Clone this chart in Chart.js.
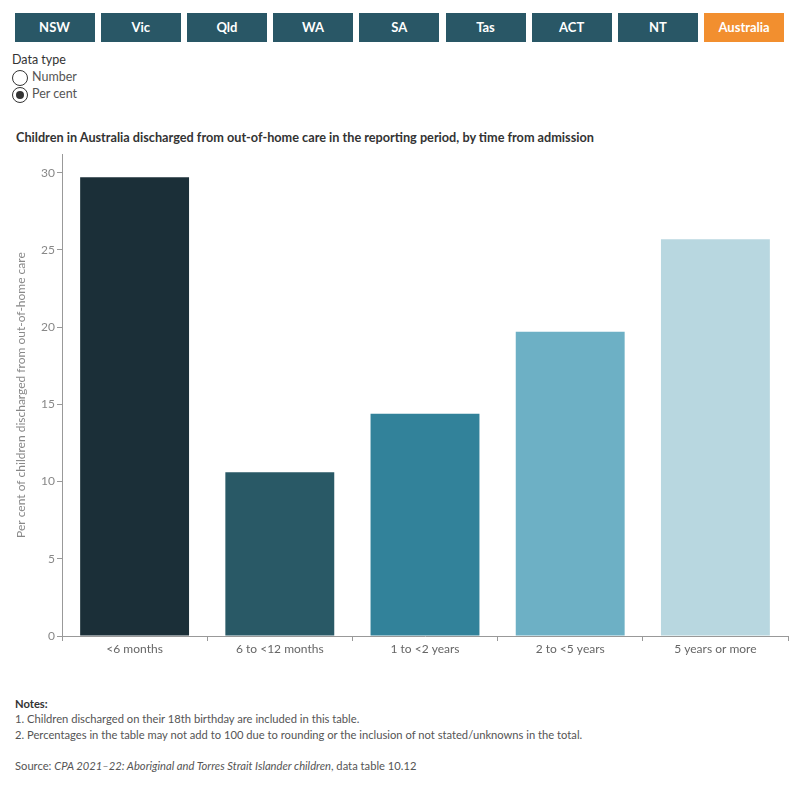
<!DOCTYPE html>
<html>
<head>
<meta charset="utf-8">
<script src="https://cdn.jsdelivr.net/npm/chart.js@4"></script>
<style>
  body { margin: 0; width: 800px; height: 800px; font-family: Lato, "Noto Sans", sans-serif; color: #333; position: relative; background: #fff; }
  .btn { position: absolute; top: 13px; width: 80px; height: 29px; background: #295766; color: #fff; font-weight: bold; font-size: 13px; line-height: 29px; text-align: center; }
  .btn.on { background: #f28f2f; }
  .lbl { position: absolute; font-size: 12.5px; color: #333; }
  .radio { position: absolute; left: 12px; width: 14px; height: 14px; border: 1px solid #333; border-radius: 50%; }
  .radio.on::after { content: ""; position: absolute; left: 3px; top: 3px; width: 8px; height: 8px; border-radius: 50%; background: #333; }
  #title { position: absolute; left: 16px; top: 129px; font-size: 12.7px; font-weight: bold; color: #333; }
  #wrap { position: absolute; left: 0; top: 145px; width: 800px; height: 520px; }
  .note { position: absolute; left: 15px; font-size: 11.2px; color: #555; }
</style>
</head>
<body>
<div id="buttons"></div>
<div class="lbl" style="left:12px;top:52px;">Data type</div>
<div class="radio" style="top:70px;"></div>
<div class="lbl" style="left:32px;top:69px;color:#555;">Number</div>
<div class="radio on" style="top:87px;"></div>
<div class="lbl" style="left:32px;top:86px;color:#555;">Per cent</div>
<div id="title">Children in Australia discharged from out-of-home care in the reporting period, by time from admission</div>
<div id="wrap"><canvas id="c" width="800" height="520"></canvas></div>
<div class="note" style="top:697px;font-weight:bold;color:#333;">Notes:</div>
<div class="note" style="top:712px;">1. Children discharged on their 18th birthday are included in this table.</div>
<div class="note" style="top:728px;">2. Percentages in the table may not add to 100 due to rounding or the inclusion of not stated/unknowns in the total.</div>
<div class="note" style="top:759px;">Source: <i>CPA 2021–22: Aboriginal and Torres Strait Islander children</i>, data table 10.12</div>
<script>
const jurisdictions = ['NSW', 'Vic', 'Qld', 'WA', 'SA', 'Tas', 'ACT', 'NT', 'Australia'];
const categories = ['<6 months', '6 to <12 months', '1 to <2 years', '2 to <5 years', '5 years or more'];
const perCent = [29.7, 10.6, 14.4, 19.7, 25.7];
const barColours = ['#1b2f38', '#295966', '#32829a', '#6db0c5', '#b8d7e0'];

const btnBox = document.getElementById('buttons');
jurisdictions.forEach((j, i) => {
    const d = document.createElement('div');
    d.className = 'btn' + (j === 'Australia' ? ' on' : '');
    d.style.left = (14.5 + i * 86.2) + 'px';
    d.textContent = j;
    btnBox.appendChild(d);
});

const ctx = document.getElementById('c').getContext('2d');
new Chart(ctx, {
    type: 'bar',
    data: {
        labels: categories,
        datasets: [{
            data: perCent,
            backgroundColor: barColours,
            barPercentage: 0.75,
            categoryPercentage: 1
        }]
    },
    options: {
        responsive: false,
        animation: false,
        layout: { padding: { left: 0, right: 12, top: 8, bottom: 0 } },
        plugins: { legend: { display: false }, tooltip: { enabled: false } },
        scales: {
            x: {
                grid: { drawOnChartArea: false, offset: true, tickLength: 5, color: '#999' },
                border: { color: '#999' },
                ticks: { color: '#666', font: { family: 'Lato', size: 12 }, padding: 1 },
                afterFit: s => { s.height = 29; }
            },
            y: {
                min: 0,
                max: 31.2,
                grid: { drawOnChartArea: false, tickLength: 5, color: '#999' },
                border: { color: '#999' },
                ticks: { stepSize: 5, color: '#888', font: { family: 'Lato', size: 12 }, padding: 2 },
                afterBuildTicks: s => { s.ticks = s.ticks.filter(t => t.value % 5 === 0); },
                title: {
                    display: true,
                    text: 'Per cent of children discharged from out-of-home care',
                    color: '#888',
                    font: { family: 'Lato', size: 12 },
                    padding: { top: 14, bottom: 0 }
                },
                afterFit: s => { s.width = 62; }
            }
        }
    }
});
</script>
</body>
</html>
